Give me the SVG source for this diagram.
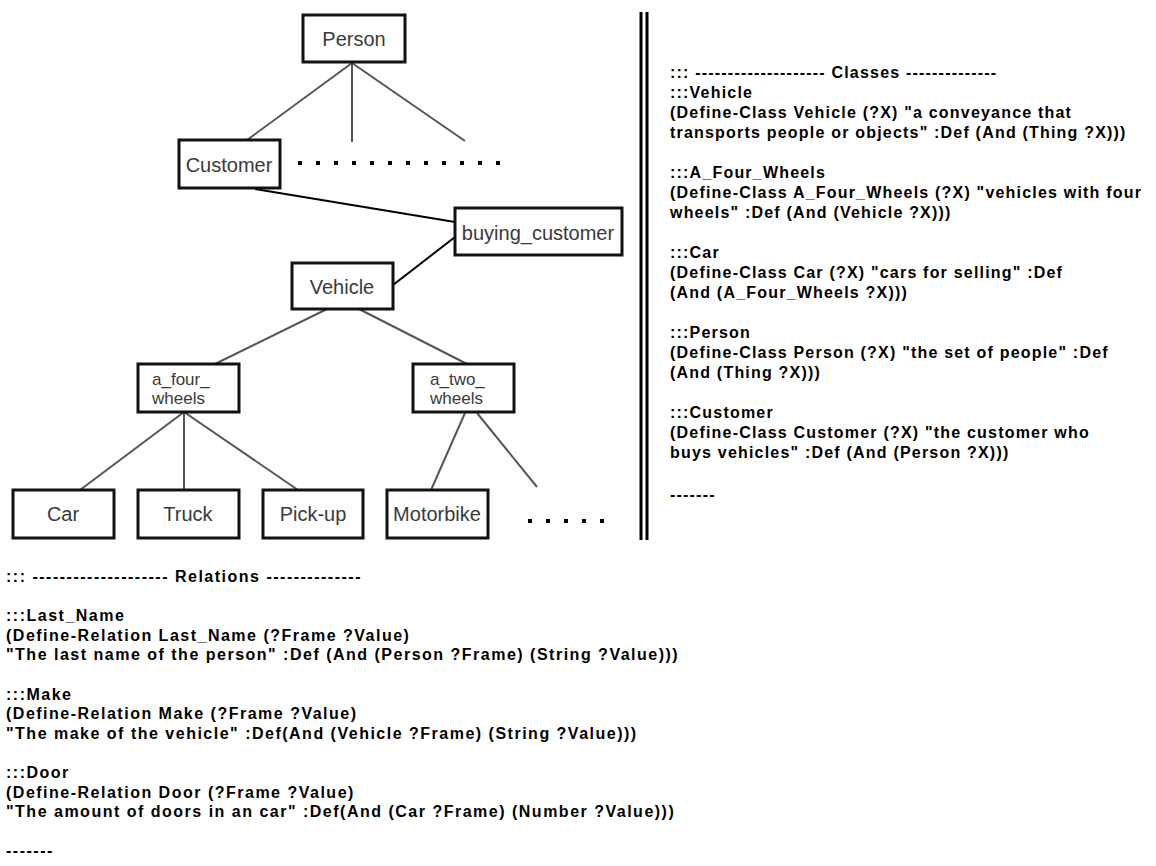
<svg xmlns="http://www.w3.org/2000/svg" width="1156" height="866" viewBox="0 0 1156 866">
<style>
.box{fill:#fff;stroke:#111;stroke-width:3}
.lbl{font-family:"Liberation Sans",Arial,sans-serif;font-size:20px;fill:#3a3a3a;text-anchor:middle}
.lbl2{font-family:"Liberation Sans",Arial,sans-serif;font-size:17px;fill:#3a3a3a}
.tree{stroke:#555;stroke-width:2;fill:none}
.blk{stroke:#000;stroke-width:2;fill:none}
.code{font-family:"Liberation Sans",Arial,sans-serif;font-size:16px;font-weight:bold;fill:#000;letter-spacing:1.2px}
.code2{font-family:"Liberation Sans",Arial,sans-serif;font-size:16px;font-weight:bold;fill:#000;letter-spacing:1.5px}
.dot{fill:#000}
.div{stroke:#000;stroke-width:3}
</style>
<rect width="1156" height="866" fill="#fff"/>
<g id="connectors">
<line class="tree" x1="352" y1="63" x2="247" y2="140"/>
<line class="tree" x1="352" y1="63" x2="352" y2="142"/>
<line class="tree" x1="352" y1="63" x2="465" y2="141"/>
<line class="blk" x1="255" y1="189" x2="455" y2="222"/>
<line class="blk" x1="455" y1="237" x2="393" y2="285"/>
<line class="tree" x1="327" y1="309" x2="215" y2="364"/>
<line class="tree" x1="359" y1="309" x2="467" y2="364"/>
<line class="tree" x1="184" y1="412" x2="80" y2="490"/>
<line class="tree" x1="184" y1="412" x2="184" y2="490"/>
<line class="tree" x1="184" y1="412" x2="298" y2="490"/>
<line class="tree" x1="465" y1="413" x2="431" y2="490"/>
<line class="tree" x1="477" y1="413" x2="537" y2="487"/>
</g>
<g id="dots-top">
<rect class="dot" x="298" y="161" width="4" height="4"/>
<rect class="dot" x="316" y="161" width="4" height="4"/>
<rect class="dot" x="334" y="161" width="4" height="4"/>
<rect class="dot" x="352" y="161" width="4" height="4"/>
<rect class="dot" x="370" y="161" width="4" height="4"/>
<rect class="dot" x="388" y="161" width="4" height="4"/>
<rect class="dot" x="406" y="161" width="4" height="4"/>
<rect class="dot" x="424" y="161" width="4" height="4"/>
<rect class="dot" x="442" y="161" width="4" height="4"/>
<rect class="dot" x="460" y="161" width="4" height="4"/>
<rect class="dot" x="478" y="161" width="4" height="4"/>
<rect class="dot" x="496" y="161" width="4" height="4"/>
</g>
<g id="dots-bottom">
<rect class="dot" x="528" y="519" width="4" height="4"/>
<rect class="dot" x="546" y="519" width="4" height="4"/>
<rect class="dot" x="564" y="519" width="4" height="4"/>
<rect class="dot" x="582" y="519" width="4" height="4"/>
<rect class="dot" x="600" y="519" width="4" height="4"/>
</g>
<g id="person"><rect class="box" x="303" y="15" width="102" height="47"/><text class="lbl" x="354" y="46">Person</text></g>
<g id="customer"><rect class="box" x="179" y="140" width="101" height="48"/><text class="lbl" x="229" y="172">Customer</text></g>
<g id="buying_customer"><rect class="box" x="455" y="208" width="167" height="47"/><text class="lbl" x="538" y="240">buying_customer</text></g>
<g id="vehicle"><rect class="box" x="292" y="263" width="101" height="46"/><text class="lbl" x="342" y="294">Vehicle</text></g>
<g id="a_four_wheels"><rect class="box" x="138" y="364" width="101" height="48"/><text class="lbl2" x="152" y="385">a_four_</text><text class="lbl2" x="152" y="404">wheels</text></g>
<g id="a_two_wheels"><rect class="box" x="413" y="364" width="101" height="48"/><text class="lbl2" x="430" y="385">a_two_</text><text class="lbl2" x="430" y="404">wheels</text></g>
<g id="car"><rect class="box" x="13" y="490" width="101" height="48"/><text class="lbl" x="63" y="521">Car</text></g>
<g id="truck"><rect class="box" x="138" y="490" width="101" height="48"/><text class="lbl" x="188" y="521">Truck</text></g>
<g id="pickup"><rect class="box" x="263" y="490" width="100" height="48"/><text class="lbl" x="313" y="521">Pick-up</text></g>
<g id="motorbike"><rect class="box" x="387" y="490" width="101" height="48"/><text class="lbl" x="437" y="521">Motorbike</text></g>
<g id="divider">
<line class="div" x1="641" y1="12" x2="641" y2="540"/>
<line class="div" x1="647" y1="12" x2="647" y2="540"/>
</g>
<g id="classes-text" class="code">
<text x="670" y="78">::: -------------------- Classes --------------</text>
<text x="670" y="98">:::Vehicle</text>
<text x="670" y="118">(Define-Class Vehicle (?X) "a conveyance that</text>
<text x="670" y="138">transports people or objects" :Def (And (Thing ?X)))</text>
<text x="670" y="178">:::A_Four_Wheels</text>
<text x="670" y="198">(Define-Class A_Four_Wheels (?X) "vehicles with four</text>
<text x="670" y="218">wheels" :Def (And (Vehicle ?X)))</text>
<text x="670" y="258">:::Car</text>
<text x="670" y="278">(Define-Class Car (?X) "cars for selling" :Def</text>
<text x="670" y="298">(And (A_Four_Wheels ?X)))</text>
<text x="670" y="338">:::Person</text>
<text x="670" y="358">(Define-Class Person (?X) "the set of people" :Def</text>
<text x="670" y="378">(And (Thing ?X)))</text>
<text x="670" y="418">:::Customer</text>
<text x="670" y="438">(Define-Class Customer (?X) "the customer who</text>
<text x="670" y="458">buys vehicles" :Def (And (Person ?X)))</text>
<text x="670" y="500">-------</text>
</g>
<g id="relations-text" class="code2">
<text x="6" y="582">::: -------------------- Relations --------------</text>
<text x="6" y="621">:::Last_Name</text>
<text x="6" y="641">(Define-Relation Last_Name (?Frame ?Value)</text>
<text x="6" y="660">"The last name of the person" :Def (And (Person ?Frame) (String ?Value)))</text>
<text x="6" y="700">:::Make</text>
<text x="6" y="719">(Define-Relation Make (?Frame ?Value)</text>
<text x="6" y="739">"The make of the vehicle" :Def(And (Vehicle ?Frame) (String ?Value)))</text>
<text x="6" y="778">:::Door</text>
<text x="6" y="798">(Define-Relation Door (?Frame ?Value)</text>
<text x="6" y="817">"The amount of doors in an car" :Def(And (Car ?Frame) (Number ?Value)))</text>
<text x="6" y="856">-------</text>
</g>
</svg>
